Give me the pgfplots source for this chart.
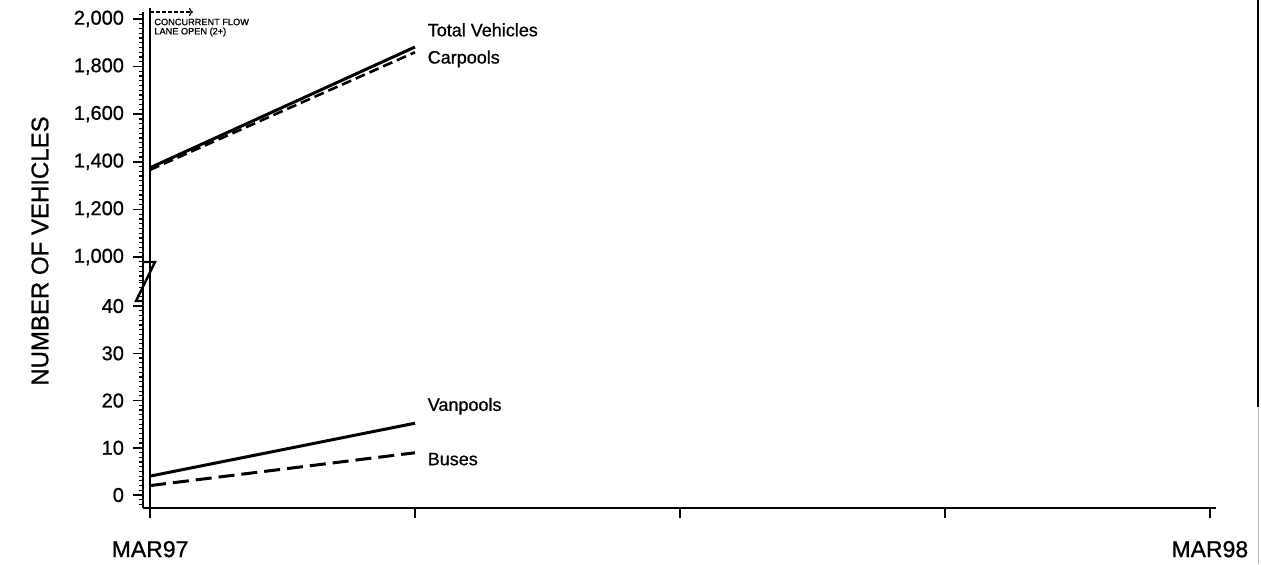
\documentclass[border=0pt]{standalone}
\usepackage{pgfplots}
\pgfplotsset{compat=1.18}
\usetikzlibrary{arrows.meta}
\usepackage{fontspec}
\setmainfont{Liberation Sans}[BoldFont={Liberation Sans}, BoldFeatures={FakeBold=0.8}]
\begin{document}
\bfseries
\begin{tikzpicture}
\path[use as bounding box] (0,0) rectangle (630.5pt,282pt);
\pgfplotsset{
  common/.style={
    scale only axis, anchor=south west, width=536.5pt,
    xmin=-0.08, xmax=12.07, clip=false,
    tick style={black, line width=0.8pt},
    minor tick style={black, line width=0.6pt},
    yticklabel style={font=\fontsize{10}{11}\selectfont\bfseries, xshift=-1pt},
    /pgf/number format/assume math mode=true,
    /pgf/number format/1000 sep={,},
  },
  ticksout/.style={tick align=outside, major tick length=5pt, minor tick length=2pt},
  nolinearrows/.style={
    axis line style={-, line width=1pt},
    every outer x axis line/.style={-, line width=1pt},
    every outer y axis line/.style={-, line width=1pt},
    x axis line style={-},
    y axis line style={-},
  },
}
% lower part (0 to 40)
\begin{axis}[common,
  at={(71.5pt,28pt)}, height=113pt,
  ymin=-2.75, ymax=45.1,
  axis x line=bottom, axis y line=left,
  nolinearrows, ticksout,
  xtick={0,3,6,9,12}, xticklabels={MAR97,,,,MAR98},
  xticklabel style={font=\fontsize{11.5}{12}\selectfont\bfseries, yshift=-8pt},
  ytick={0,10,20,30,40},
  minor ytick={-2,-1,...,45},
]
\addplot[black, line width=1.5pt] coordinates {(0,4.0) (3,15.2)};
\addplot[black, line width=1.5pt, dash pattern=on 8pt off 3.5pt] coordinates {(0,2.0) (3,8.95)};
\node[anchor=west, inner sep=0pt, font=\fontsize{9}{10}\selectfont\bfseries] at (axis cs:3.14,18.8) {Vanpools};
\node[anchor=west, inner sep=0pt, font=\fontsize{9}{10}\selectfont\bfseries] at (axis cs:3.14,7.6) {Buses};
\end{axis}
% upper part (1,000 to 2,000)
\begin{axis}[common,
  at={(71.5pt,141pt)}, height=135pt,
  ymin=895, ymax=2029,
  axis x line=none, axis y line=left,
  nolinearrows, ticksout,
  ytick={1000,1200,1400,1600,1800,2000},
  minor ytick={900,920,...,2020},
]
\addplot[black, line width=1.5pt] coordinates {(0,1375) (3,1882)};
\addplot[black, line width=1.3pt, dash pattern=on 5pt off 2.5pt] coordinates {(0,1366) (3,1860)};
\node[anchor=west, inner sep=0pt, font=\fontsize{9}{10}\selectfont\bfseries] at (axis cs:3.14,1954) {Total Vehicles};
\node[anchor=west, inner sep=0pt, font=\fontsize{9}{10}\selectfont\bfseries] at (axis cs:3.14,1832) {Carpools};
\end{axis}
% annotations in pixel coordinates
\begin{scope}[x=0.5pt, y=-0.5pt, yshift=282pt]
  \draw[line width=0.8pt] (150,8) -- (150,508);
  \draw[line width=0.6pt, dash pattern=on 2pt off 1pt, -{To[length=2pt]}] (150,12) -- (193,12);
  \node[anchor=west, inner sep=0pt, font=\fontsize{4.6}{5}\selectfont\bfseries] at (154,22) {CONCURRENT FLOW};
  \node[anchor=west, inner sep=0pt, font=\fontsize{4.6}{5}\selectfont\bfseries] at (154,32) {LANE OPEN (2+)};
  \draw[line width=1.2pt, line join=miter] (143,262) -- (155,262) -- (136,301) -- (143,301);
  \node[rotate=90, font=\fontsize{12}{14}\selectfont\bfseries] at (40,251) {NUMBER OF VEHICLES};
  \draw[line width=0.8pt] (1258,0) -- (1258,407);
  \draw[line width=0.5pt, gray!50] (1258,407) -- (1258,564);
\end{scope}
\end{tikzpicture}
\end{document}
